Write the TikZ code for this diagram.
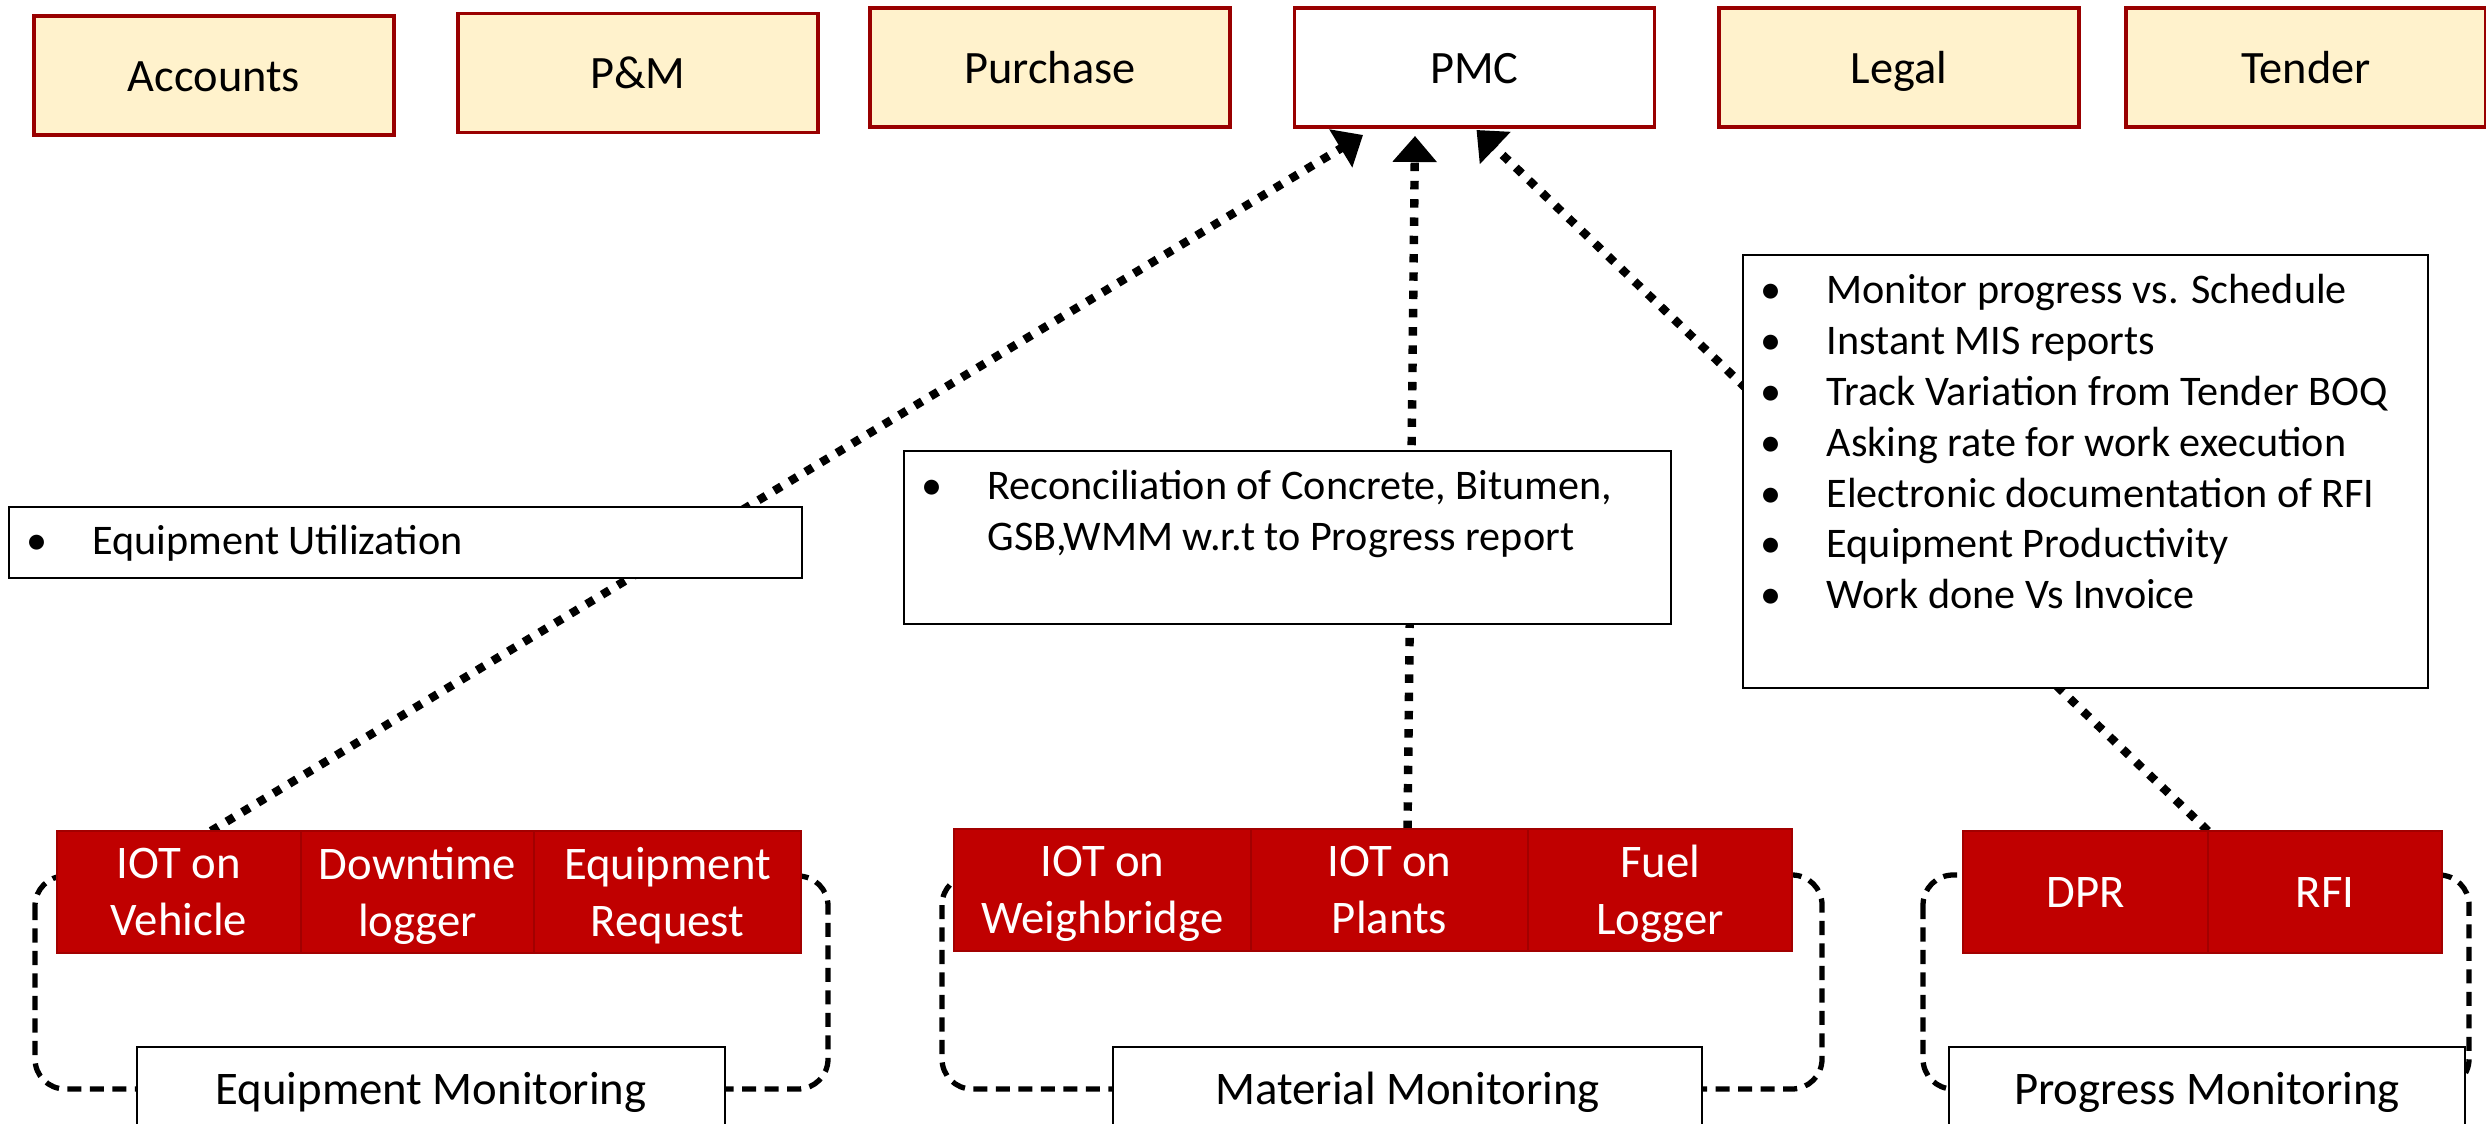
\documentclass[tikz,border=0pt]{standalone}
\usepackage{fontspec}
\setmainfont{Carlito}
\usetikzlibrary{positioning,chains,arrows.meta,backgrounds}

\definecolor{deptfill}{HTML}{FFF2CC}
\definecolor{deptline}{HTML}{990000}
\definecolor{sysfill}{HTML}{C00000}
\definecolor{sysline}{HTML}{A20000}

\newcommand{\itm}[1]{\makebox[0.66cm][l]{\textbullet}#1}

\begin{document}
\begin{tikzpicture}[dept/.style={rectangle, draw=deptline, line width=0.9pt,
    fill=deptfill, minimum width=3.6cm, minimum height=1.19cm, outer sep=0pt,
    text height=9pt, text depth=0pt, font=\fontsize{13.2}{16}\selectfont},
    sys/.style={rectangle, draw=sysline, line width=0.5pt, fill=sysfill,
    text=white, align=center, minimum height=1.22cm, inner sep=1pt, outer sep=0pt,
    text depth=0pt, font=\fontsize{13.3}{16.2}\selectfont},
    note/.style={rectangle, draw, line width=0.7pt, fill=white, anchor=north west,
    outer sep=0pt},
    tag/.style={rectangle, draw, line width=0.7pt, fill=white, anchor=north west,
    minimum height=0.84cm, outer sep=0pt, text height=9pt, text depth=0pt,
    font=\fontsize{13.3}{16}\selectfont},
    pts/.style={anchor=base west, inner sep=0pt, font=\fontsize{12}{14.45}\selectfont},
    flow/.style={->, line width=2.4pt, dash pattern=on 2.4pt off 2.8pt},
    ring/.style={line width=1.5pt, dash pattern=on 4pt off 2.4pt, rounded corners=0.3cm},
    >={Triangle[length=0.26cm, width=0.43cm]}, node distance=0pt]
  \useasboundingbox (0,0) rectangle (24.86,-11.24);
  \clip (0,0) rectangle (24.86,-11.24);

  \node[dept] (acc) at (2.14,-0.755) {Accounts};
  \node[dept] (pm) at (6.38,-0.73) {P\&M};
  \node[dept] (pur) at (10.50,-0.675) {Purchase};
  \node[dept, fill=white] (pmc) at (14.745,-0.675) {PMC};
  \node[dept] (leg) at (18.99,-0.675) {Legal};
  \node[dept] (ten) at (23.06,-0.675) {Tender};

  \begin{scope}[start chain=eq going right]
    \node[sys, on chain, anchor=north west, minimum width=2.44cm] (veh) at (0.57,-8.31) {IOT on\\Vehicle};
    \node[sys, on chain, minimum width=2.33cm] (dwn) {Downtime\\logger};
    \node[sys, on chain, minimum width=2.67cm] (ereq) {Equipment\\Request};
  \end{scope}
  \begin{scope}[start chain=mat going right]
    \node[sys, on chain, anchor=north west, minimum width=2.97cm] (weigh) at (9.54,-8.29) {IOT on\\Weighbridge};
    \node[sys, on chain, minimum width=2.77cm] (plant) {IOT on\\Plants};
    \node[sys, on chain, minimum width=2.64cm] (fuel) {Fuel\\Logger};
  \end{scope}
  \begin{scope}[start chain=prg going right]
    \node[sys, on chain, anchor=north west, minimum width=2.45cm, text height=9pt] (dpr) at (19.63,-8.31) {DPR};
    \node[sys, on chain, minimum width=2.34cm, text height=9pt] (rfi) {RFI};
  \end{scope}

  \node[tag, minimum width=5.88cm] (eqmon) at (1.37,-10.47) {Equipment Monitoring};
  \node[tag, minimum width=5.89cm] (matmon) at (11.13,-10.47) {Material Monitoring};
  \node[tag, minimum width=5.16cm] (prgmon) at (19.49,-10.47) {Progress Monitoring};

  \node[note, minimum width=7.93cm, minimum height=0.71cm] (util) at (0.09,-5.07) {};
  \node[pts] (utiltxt) at ([xshift=0.17cm, yshift=-0.48cm]util.north west) {\itm{Equipment Utilization}};
  \node[note, minimum width=7.67cm, minimum height=1.73cm] (recon) at (9.04,-4.51) {};
  \node[pts] (recontxt) at ([xshift=0.17cm, yshift=-0.49cm]recon.north west) {\begin{tabular}[t]{@{}l@{}}
    \itm{Reconciliation of Concrete, Bitumen,}\\
    \hspace*{0.66cm}GSB,WMM w.r.t to Progress report\end{tabular}};
  \node[note, minimum width=6.85cm, minimum height=4.33cm] (kpi) at (17.43,-2.55) {};
  \node[pts] (kpitxt) at ([xshift=0.17cm, yshift=-0.49cm]kpi.north west) {\begin{tabular}[t]{@{}l@{}}
    \itm{Monitor progress vs. Schedule}\\
    \itm{Instant MIS reports}\\
    \itm{Track Variation from Tender BOQ}\\
    \itm{Asking rate for work execution}\\
    \itm{Electronic documentation of RFI}\\
    \itm{Equipment Productivity}\\
    \itm{Work done Vs Invoice}\end{tabular}};

  \begin{scope}[on background layer]
    \draw[ring] ([xshift=-0.22cm, yshift=0.16cm]veh.west) rectangle ([xshift=1.03cm]eqmon.east);
    \draw[ring] ([xshift=-0.12cm, yshift=0.15cm]weigh.west) rectangle ([xshift=1.20cm]matmon.east);
    \draw[ring] ([xshift=-0.40cm, yshift=0.17cm]dpr.west) rectangle ([xshift=0.04cm]prgmon.east);
    \draw[flow] ([xshift=0.32cm]veh.north) -- ([xshift=-1.115cm, yshift=-0.08cm]pmc.south);
    \draw[flow] ([xshift=0.18cm]plant.north) -- ([xshift=-0.595cm, yshift=-0.09cm]pmc.south);
    \draw[flow] (dpr.north east) -- ([xshift=0.02cm, yshift=-0.03cm]pmc.south);
  \end{scope}
\end{tikzpicture}
\end{document}
